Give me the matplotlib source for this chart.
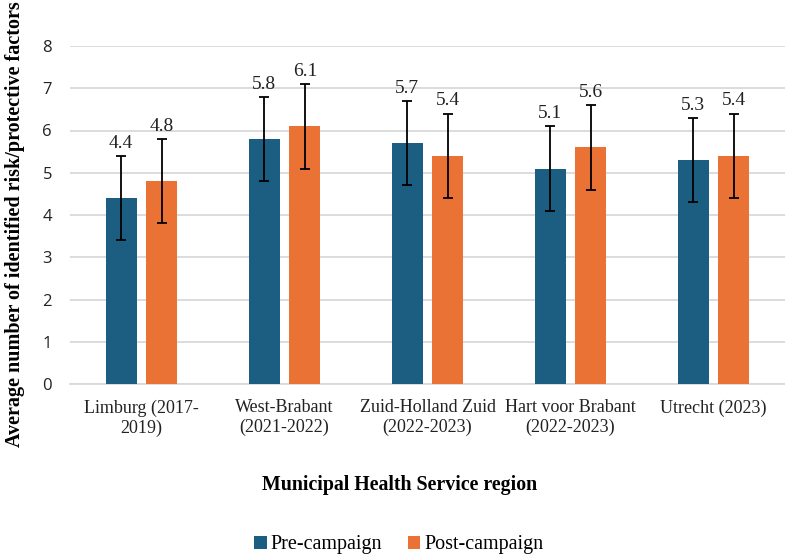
import matplotlib.pyplot as plt
import numpy as np

regions = ["Limburg (2017-\n2019)", "West-Brabant\n(2021-2022)",
           "Zuid-Holland Zuid\n(2022-2023)", "Hart voor Brabant\n(2022-2023)",
           "Utrecht (2023)"]
pre = [4.4, 5.8, 5.7, 5.1, 5.3]
post = [4.8, 6.1, 5.4, 5.6, 5.4]
pre_err = [1.0, 1.0, 1.0, 1.0, 1.0]
post_err = [1.0, 1.0, 1.0, 1.0, 1.0]

blue = "#1B5E82"
orange = "#EA7234"
serif = "Liberation Serif"

fig = plt.figure(figsize=(7.85, 5.58), dpi=100)
ax = fig.add_axes([70 / 785, 1 - 384 / 558, 715 / 785, 338 / 558])

x = np.arange(len(regions))
w = 0.217
off = 0.143
err_kw = dict(ecolor="black", elinewidth=1.3, capsize=3.5, capthick=1.3)
b1 = ax.bar(x - off, pre, w, yerr=pre_err, color=blue, label="Pre-campaign",
            error_kw=err_kw, zorder=3)
b2 = ax.bar(x + off, post, w, yerr=post_err, color=orange, label="Post-campaign",
            error_kw=err_kw, zorder=3)

# value labels above the error bar caps
for xs, vals, errs in [(x - off, pre, pre_err), (x + off, post, post_err)]:
    for xi, v, e in zip(xs, vals, errs):
        ax.annotate(f"{v:.1f}", (xi, v + e), xytext=(0, 3), textcoords="offset points",
                    ha="center", va="bottom", fontsize=14, family=serif, color="#222222")

ax.set_xlim(-0.5, len(regions) - 0.5)
ax.set_ylim(0, 8)
ax.set_yticks(range(0, 9))
ax.set_xticks(x)
ax.set_xticklabels(regions, family=serif, fontsize=13, va="top", color="#222222")
ax.tick_params(axis="both", length=0)
ax.tick_params(axis="x", pad=11)
ax.tick_params(axis="y", pad=13, labelsize=12, labelcolor="#222222")
for lab in ax.get_yticklabels():
    lab.set_family("Open Sans")

ax.grid(axis="y", color="#D9D9D9", linewidth=1.3, zorder=0)
for s in ["top", "right", "left"]:
    ax.spines[s].set_visible(False)
ax.spines["bottom"].set_color("#D9D9D9")
ax.spines["bottom"].set_linewidth(1.3)

fig.text(15 / 785, 1 - 224 / 558, "Average number of identified risk/protective factors",
         rotation=90, ha="center", va="center", fontsize=14.5, fontweight="bold", family=serif)
fig.text(400 / 785, 1 - 485 / 558, "Municipal Health Service region",
         ha="center", va="center", fontsize=14.3, fontweight="bold", family=serif)

fig.legend(handles=[b1, b2], loc="center", bbox_to_anchor=(399 / 785, 1 - 545 / 558),
           ncol=2, frameon=False, prop={"family": serif, "size": 14.5},
           handlelength=0.6, handleheight=0.6, handletextpad=0.2, columnspacing=1.3)

fig.savefig("out.png", dpi=100)
